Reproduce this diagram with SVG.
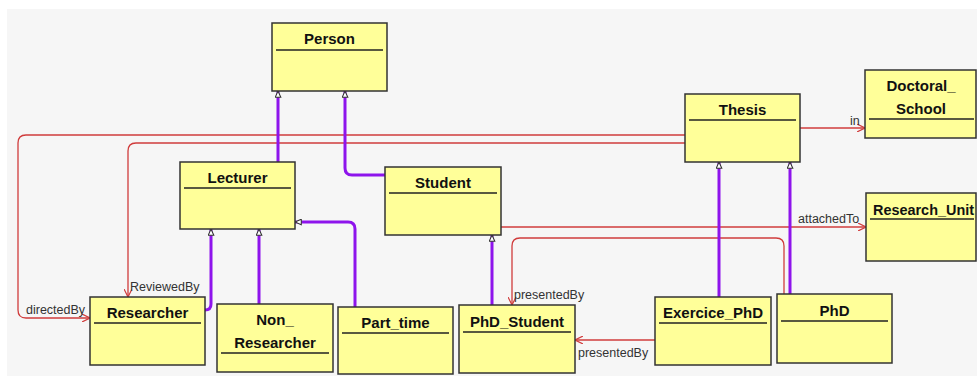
<svg xmlns="http://www.w3.org/2000/svg" width="977" height="378" viewBox="0 0 977 378">
<style>
.box{fill:#ffff99;stroke:#333;stroke-width:1.5}
.sep{stroke:#222;stroke-width:1.5}
.t{font-family:"Liberation Sans",Arial,sans-serif;font-weight:bold;font-size:15px;fill:#111;text-anchor:middle}
.lbl{font-family:"Liberation Sans",Arial,sans-serif;font-size:12.5px;fill:#333}
.gen{fill:none;stroke:#8e14ec;stroke-width:3;marker-end:url(#tri)}
.asc{fill:none;stroke:#d03c3c;stroke-width:1.3;marker-end:url(#open)}
</style>
<defs>
<marker id="tri" viewBox="0 0 10 10" refX="10" refY="5" markerWidth="8" markerHeight="7" markerUnits="userSpaceOnUse" orient="auto">
<path d="M1,1 L10,5 L1,9 z" fill="#fff" stroke="#333" stroke-width="1.5"/>
</marker>
<marker id="open" viewBox="0 0 10 10" refX="10" refY="5" markerWidth="8" markerHeight="8" markerUnits="userSpaceOnUse" orient="auto">
<path d="M0,0 L10,5 L0,10" fill="none" stroke="#d03c3c" stroke-width="1.5"/>
</marker>
</defs>
<rect width="977" height="378" fill="#fff"/>
<rect x="7" y="9" width="970" height="367" fill="#f6f6f6"/>

<g id="connectors">
<path class="asc" d="M685,135 H26 Q18,135 18,143 V310 Q18,318 26,318 H90"/>
<path class="asc" d="M685,143 H136 Q128,143 128,151 V297"/>
<path class="asc" d="M800,128 H865"/>
<path class="asc" d="M501,227 H866"/>
<path class="asc" d="M784,294 V246 Q784,238 776,238 H520 Q512,238 512,246 V305"/>
<path class="asc" d="M655,340 H575"/>
<path class="gen" d="M278,162 V91"/>
<path class="gen" d="M385,175 H352 Q345,175 345,168 V91"/>
<path class="gen" d="M205,310 Q211,310 211,304 V229"/>
<path class="gen" d="M259,304 V229"/>
<path class="gen" d="M355,307 V229 Q355,222 348,222 H295"/>
<path class="gen" d="M492,305 V235"/>
<path class="gen" d="M719,297 V162"/>
<path class="gen" d="M790,294 V162"/>
<text class="lbl" x="26" y="314">directedBy</text>
<text class="lbl" x="130" y="291">ReviewedBy</text>
<text class="lbl" x="850" y="125">in</text>
<text class="lbl" x="798" y="223">attachedTo</text>
<text class="lbl" x="514" y="299">presentedBy</text>
<text class="lbl" x="578" y="357">presentedBy</text>
</g>

<g id="Person"><rect class="box" x="272" y="23" width="115" height="68"/><line class="sep" x1="276" y1="50" x2="383" y2="50"/><text class="t" x="329.5" y="44">Person</text></g>
<g id="Lecturer"><rect class="box" x="180" y="162" width="115" height="67"/><line class="sep" x1="184" y1="188" x2="291" y2="188"/><text class="t" x="237.5" y="183">Lecturer</text></g>
<g id="Student"><rect class="box" x="385" y="167" width="116" height="68"/><line class="sep" x1="389" y1="193" x2="497" y2="193"/><text class="t" x="443" y="188">Student</text></g>
<g id="Thesis"><rect class="box" x="685" y="94" width="115" height="68"/><line class="sep" x1="689" y1="120" x2="796" y2="120"/><text class="t" x="742.5" y="115">Thesis</text></g>
<g id="Doctoral_School"><rect class="box" x="865" y="70" width="111" height="68"/><line class="sep" x1="869" y1="119" x2="974" y2="119"/><text class="t" x="921" y="91">Doctoral_</text><text class="t" x="921" y="114">School</text></g>
<g id="Research_Unit"><rect class="box" x="866" y="193" width="110" height="68"/><line class="sep" x1="870" y1="219" x2="974" y2="219"/><text class="t" x="873" y="215" style="text-anchor:start" textLength="101" lengthAdjust="spacingAndGlyphs">Research_Unit</text></g>
<g id="Researcher"><rect class="box" x="90" y="297" width="115" height="68"/><line class="sep" x1="94" y1="323" x2="201" y2="323"/><text class="t" x="147.5" y="318">Researcher</text></g>
<g id="Non_Researcher"><rect class="box" x="217" y="304" width="116" height="68"/><line class="sep" x1="221" y1="353" x2="329" y2="353"/><text class="t" x="275" y="325">Non_</text><text class="t" x="275" y="348">Researcher</text></g>
<g id="Part_time"><rect class="box" x="338" y="307" width="115" height="67"/><line class="sep" x1="342" y1="333" x2="449" y2="333"/><text class="t" x="395.5" y="328">Part_time</text></g>
<g id="PhD_Student"><rect class="box" x="459" y="305" width="116" height="68"/><line class="sep" x1="463" y1="332" x2="571" y2="332"/><text class="t" x="517" y="327">PhD_Student</text></g>
<g id="Exercice_PhD"><rect class="box" x="655" y="297" width="116" height="68"/><line class="sep" x1="659" y1="323" x2="767" y2="323"/><text class="t" x="713" y="318">Exercice_PhD</text></g>
<g id="PhD"><rect class="box" x="777" y="294" width="115" height="69"/><line class="sep" x1="781" y1="321" x2="888" y2="321"/><text class="t" x="834.5" y="316">PhD</text></g>
</svg>
